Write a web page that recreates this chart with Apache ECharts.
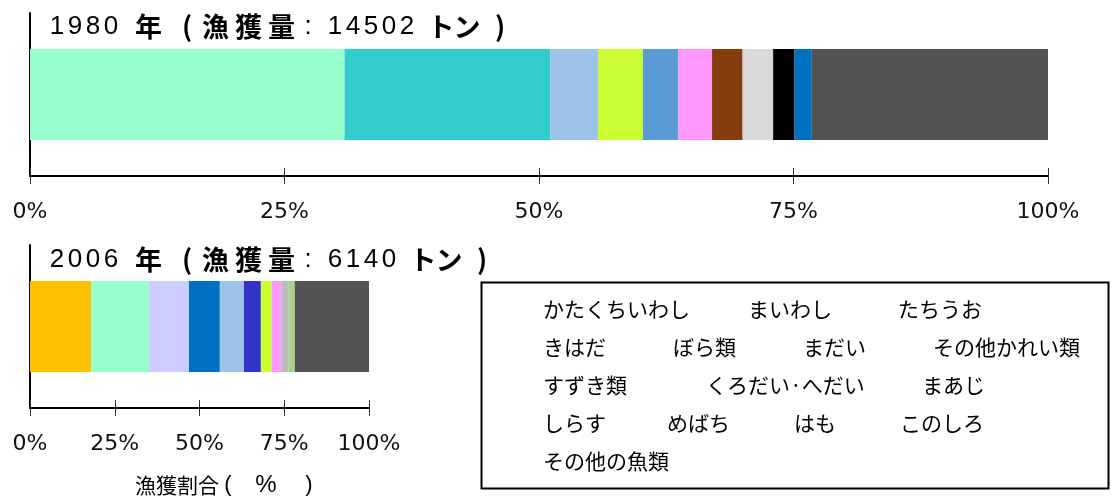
<!DOCTYPE html>
<html>
<head>
<meta charset="utf-8">
<script src="https://cdn.jsdelivr.net/npm/echarts@6/dist/echarts.min.js"></script>
<style>
  html, body { margin: 0; padding: 0; background: #fff; }
  #chart { width: 1117px; height: 496px; }
</style>
</head>
<body>
<div id="chart"></div>
<script>
// Catch composition (% of total landings) by species
const species1980 = ['かたくちいわし', 'まいわし', 'たちうお', 'きはだ', 'ぼら類', 'まだい', 'その他かれい類', 'すずき類', 'くろだい・へだい', 'まあじ', 'その他の魚類'];
const share1980 = [30.9, 20.2, 4.7, 4.4, 3.5, 3.3, 3.0, 3.0, 2.1, 1.7, 23.2];
const colors1980 = ['#99FFCC', '#33CCCC', '#9DC3E6', '#CCFF33', '#5B9BD5', '#FF99FF', '#843C0C', '#D9D9D9', '#000000', '#0070C0', '#525252'];

const species2006 = ['しらす', 'かたくちいわし', 'このしろ', 'まあじ', 'たちうお', 'めばち', 'きはだ', 'まだい', 'はも', 'すずき類', 'その他の魚類'];
const share2006 = [18.0, 17.1, 11.8, 9.1, 7.1, 5.0, 3.2, 2.9, 2.1, 1.8, 21.9];
const colors2006 = ['#FFC000', '#99FFCC', '#CCCCFF', '#0070C0', '#9DC3E6', '#3333CC', '#CCFF33', '#FF99FF', '#BBBBBB', '#A9D18E', '#525252'];

const totals = { '1980': 14502, '2006': 6140 };
const axisTitle = ['漁獲割合', '(', '%', ')'];

// Legend rows (text only, no swatches)
const legendRows = [
  ['かたくちいわし', 'まいわし', 'たちうお'],
  ['きはだ', 'ぼら類', 'まだい', 'その他かれい類'],
  ['すずき類', 'くろだい·へだい', 'まあじ'],
  ['しらす', 'めばち', 'はも', 'このしろ'],
  ['その他の魚類']
];

// ---- layout ----
const legendCols = [
  [543, 748, 898],
  [543, 673, 803, 933],
  [543, 706, 922],
  [543, 667, 794, 900],
  [543]
];
const LATIN = 'DejaVu Sans, Liberation Sans, sans-serif';
const ARIAL = 'Liberation Sans, Arial, sans-serif';
const CJK = 'Noto Sans CJK JP, sans-serif';

const panels = [
  { year: '1980', titleTop: 8, grid: { left: 30, top: 13, width: 1018, height: 163 } },
  { year: '2006', titleTop: 241, grid: { left: 30, top: 245, width: 339, height: 163 } }
];

const grids = [];
const xAxes = [];
const yAxes = [];
panels.forEach(p => {
  // main grid + overlay grid carrying the upward half of the ticks
  grids.push(Object.assign({ containLabel: false }, p.grid));
  grids.push(Object.assign({ containLabel: false }, p.grid));
});

panels.forEach((p, k) => {
  const g = k * 2;
  xAxes.push({
    type: 'value', gridIndex: g, min: 0, max: 100, interval: 25,
    axisLine: { show: true, lineStyle: { color: '#000', width: 2 } },
    axisTick: { show: true, length: 8, lineStyle: { color: '#333', width: 1 } },
    axisLabel: { show: true, margin: 25, formatter: '{value}%', fontSize: 22, color: '#111', fontFamily: LATIN },
    splitLine: { show: false }
  });
  xAxes.push({
    type: 'value', gridIndex: g + 1, min: 0, max: 100, interval: 25,
    axisLine: { show: false },
    axisTick: { show: true, inside: true, length: 8, lineStyle: { color: '#333', width: 1 } },
    axisLabel: { show: false },
    splitLine: { show: false }
  });
  yAxes.push({
    type: 'category', gridIndex: g, data: [p.year],
    axisLine: { show: true, lineStyle: { color: '#000', width: 2 } },
    axisTick: { show: false }, axisLabel: { show: false }
  });
  yAxes.push({
    type: 'category', gridIndex: g + 1, data: [p.year], show: false
  });
});

function stackSeries(names, values, colors, axisIndex, stackId) {
  return names.map((n, i) => ({
    name: n, type: 'bar', stack: stackId,
    xAxisIndex: axisIndex, yAxisIndex: axisIndex,
    barWidth: 91, data: [values[i]],
    itemStyle: { color: colors[i] },
    silent: true
  }));
}

const series = [].concat(
  stackSeries(species1980, share1980, colors1980, 0, 's1980'),
  stackSeries(species2006, share2006, colors2006, 2, 's2006')
);

// Title: each character set in its own fixed-width cell (tracked-out lettering)
const richTitle = {
  d: { fontFamily: ARIAL, fontSize: 26, fontWeight: 'normal', color: '#000', width: 18, align: 'center' },
  c: { fontFamily: ARIAL, fontSize: 26, fontWeight: 'normal', color: '#000', width: 20, align: 'center' },
  k: { fontFamily: CJK, fontSize: 27, fontWeight: 'bold', color: '#000', width: 33, align: 'center' },
  t: { fontFamily: CJK, fontSize: 27, fontWeight: 'bold', color: '#000', width: 26, align: 'center' },
  p: { fontFamily: CJK, fontSize: 27, fontWeight: 'bold', color: '#000', width: 24, align: 'center' },
  g1: { width: 12 }, g2: { width: 10 }, g3: { width: 8 }, g4: { width: 12 }, g5: { width: 8 }
};
function cells(str, cls) {
  return Array.from(str).map(ch => `{${cls}|${ch}}`).join('');
}
function titleText(year) {
  return cells(year, 'd') + '{g1| }' + cells('年', 'k') + '{g2| }' + cells('(', 'p') +
    cells('漁獲量', 'k') + cells(':', 'c') + '{g3| }' + cells(String(totals[year]), 'd') +
    '{g4| }' + cells('トン', 't') + '{g5| }' + cells(')', 'p');
}

const graphics = [
  {
    type: 'rect', left: 479, top: 280, silent: true,
    shape: { width: 627, height: 206 },
    style: { fill: 'none', stroke: '#000', lineWidth: 2 }
  },
  {
    type: 'text', x: 135, y: 485, silent: true,
    style: {
      text: `{a|${axisTitle[0]}}{l|${axisTitle[1]}}{m|${axisTitle[2]}}{r|${axisTitle[3]}}`,
      verticalAlign: 'middle',
      rich: {
        a: { fontFamily: CJK, fontSize: 21, color: '#000' },
        l: { fontFamily: ARIAL, fontSize: 22, color: '#000', width: 18, align: 'center' },
        m: { fontFamily: ARIAL, fontSize: 24, color: '#000', width: 58, align: 'center' },
        r: { fontFamily: ARIAL, fontSize: 22, color: '#000', width: 28, align: 'center' }
      }
    }
  }
];
legendRows.forEach((row, r) => {
  row.forEach((name, c) => {
    graphics.push({
      type: 'text', x: legendCols[r][c], y: 309 + r * 38, silent: true,
      style: { text: name, font: '21px ' + CJK, fill: '#000', verticalAlign: 'middle' }
    });
  });
});

const chart = echarts.init(document.getElementById('chart'));
chart.setOption({
  animation: false,
  backgroundColor: '#fff',
  title: panels.map(p => ({
    left: 43, top: p.titleTop, text: titleText(p.year),
    textStyle: { rich: richTitle }
  })),
  grid: grids,
  xAxis: xAxes,
  yAxis: yAxes,
  series: series,
  graphic: graphics
});
</script>
</body>
</html>
